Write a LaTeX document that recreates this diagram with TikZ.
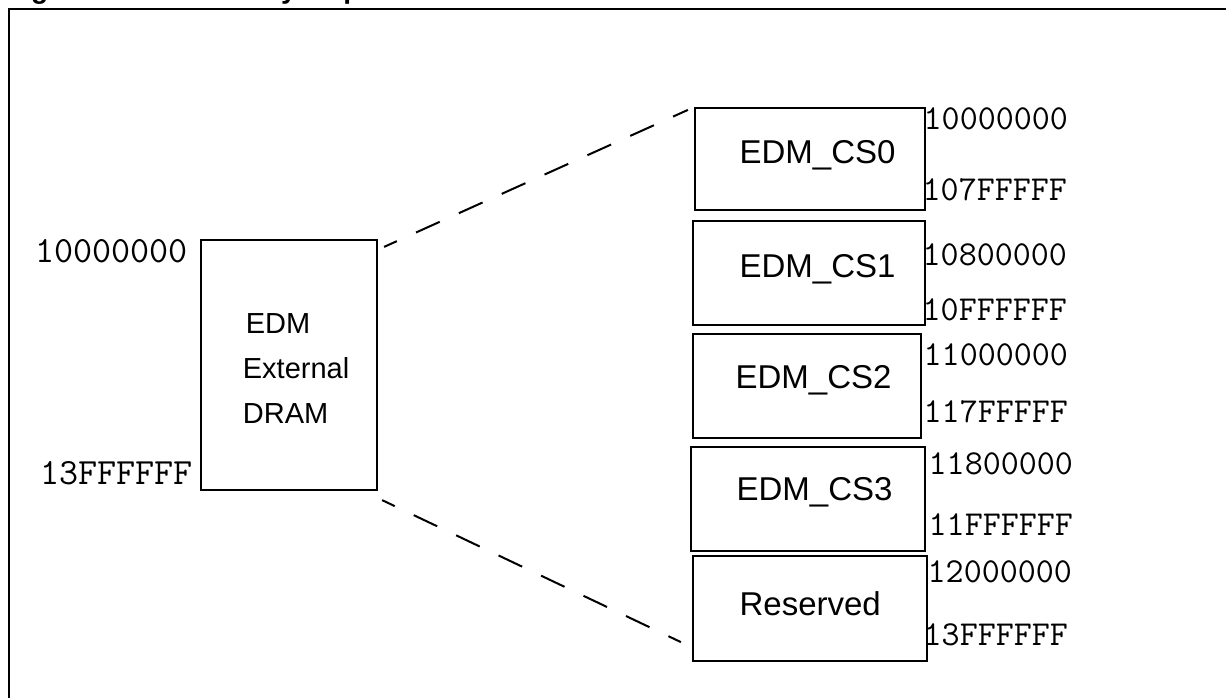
\documentclass[tikz,border=0pt]{standalone}
\usepackage{fontspec}
\setmainfont{Liberation Sans}
\usetikzlibrary{calc}
\begin{document}
\begin{tikzpicture}[x=1pt,y=-1pt,
  box/.style={draw,line width=2.2pt,inner sep=0pt},
  lbl/.style={anchor=base west,inner sep=0pt,font=\fontsize{33}{36}\selectfont},
  llbl/.style={anchor=base west,inner sep=0pt,font=\fontsize{29}{32}\selectfont},
  addr/.style={anchor=base west,inner sep=0pt,font=\ttfamily\fontsize{35}{36}\selectfont},
  laddr/.style={anchor=base west,inner sep=0pt,font=\ttfamily\fontsize{37}{38}\selectfont},
  link/.style={line width=2pt,dash pattern=on 26pt off 21pt,dash phase=12pt}]
\useasboundingbox (0,0) rectangle (1226,697);
\clip (0,0) rectangle (1226,697);
\node[anchor=base west,inner sep=0pt,font=\bfseries\fontsize{28}{30}\selectfont] (title) at (6,-2) {Figure 12-10. Memory Map};
\draw[line width=2pt] (9,9) rectangle (1240,712);
% boxes
\node[box,minimum width=176pt,minimum height=250pt] (edm) at (289,365) {};
\node[box,minimum width=230pt,minimum height=102pt] (cs0) at (810,159) {};
\node[box,minimum width=232pt,minimum height=104pt] (cs1) at (809,273) {};
\node[box,minimum width=228pt,minimum height=104pt] (cs2) at (807,386) {};
\node[box,minimum width=234pt,minimum height=104pt] (cs3) at (808,499) {};
\node[box,minimum width=234pt,minimum height=105pt] (res) at (810,608.5) {};
% box texts
\node[llbl] (t1) at (245.7,333) {EDM};
\node[llbl] (t2) at (242.7,378) {External};
\node[llbl] (t3) at (242.7,423) {DRAM};
\node[lbl] (l0) at (739.4,163) {EDM\_CS0};
\node[lbl] (l1) at (739.4,277) {EDM\_CS1};
\node[lbl] (l2) at (735.4,388) {EDM\_CS2};
\node[lbl] (l3) at (736.4,500) {EDM\_CS3};
\node[lbl] (l4) at (739.4,615) {Reserved};
% addresses
\node[laddr] (a1) at (35.3,262) {10000000};
\node[laddr] (a2) at (40.3,484) {13FFFFFF};
\node[addr] (r0) at (923.5,129) {10000000};
\node[addr] (r1) at (922.5,200) {107FFFFF};
\node[addr] (r2) at (922.5,265) {10800000};
\node[addr] (r3) at (922.5,320) {10FFFFFF};
\node[addr] (r4) at (923.5,365) {11000000};
\node[addr] (r5) at (923.5,422) {117FFFFF};
\node[addr] (r6) at (928.5,474) {11800000};
\node[addr] (r7) at (928.5,535) {11FFFFFF};
\node[addr] (r8) at (927.5,582) {12000000};
\node[addr] (r9) at (923.5,645) {13FFFFFF};
% dashed connectors
\draw[link] ($(edm.north east)+(6,8)$) -- ($(cs0.north west)+(-6,3)$);
\draw[link] ($(edm.south east)+(4,9)$) -- ($(res.south west)+(-11,-20)$);
\end{tikzpicture}
\end{document}
